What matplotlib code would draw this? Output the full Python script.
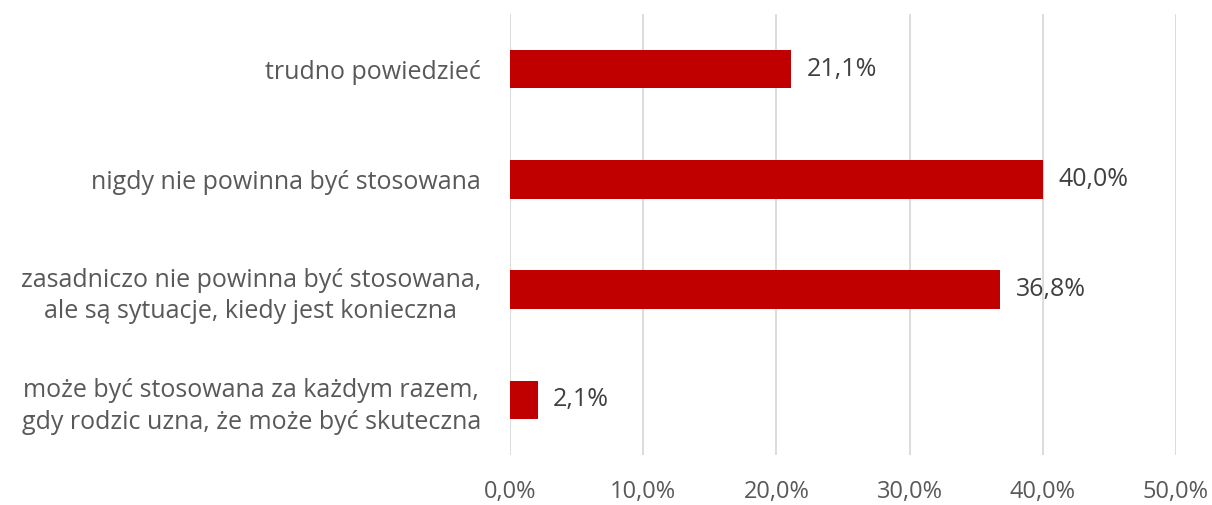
import numpy as np
import matplotlib.pyplot as plt

categories = [
    "może być stosowana za każdym razem,\ngdy rodzic uzna, że może być skuteczna",
    "zasadniczo nie powinna być stosowana,\nale są sytuacje, kiedy jest konieczna",
    "nigdy nie powinna być stosowana",
    "trudno powiedzieć",
]
values = [2.1, 36.8, 40.0, 21.1]
xticks = [0, 10, 20, 30, 40, 50]

plt.rcParams['font.family'] = ['Open Sans', 'DejaVu Sans']

fig = plt.figure(figsize=(12.12, 5.05), dpi=100)
ax = fig.add_axes([510 / 1212, 1 - 455 / 505, 666 / 1212, 441 / 505])

y = np.arange(len(categories))
ax.barh(y, values, height=0.35, color='#C00000', zorder=3)
for yi, v in zip(y, values):
    ax.annotate(f"{v:.1f}%".replace('.', ','), (v, yi), xytext=(11, 0),
                textcoords='offset points', va='center', ha='left',
                fontsize=18, color='#404040')

ax.set_xlim(0, 50)
ax.set_ylim(-0.5, len(categories) - 0.5)
ax.set_xticks(xticks)
ax.set_xticklabels([f"{t:.1f}%".replace('.', ',') for t in xticks], fontsize=17, color='#595959')
ax.set_yticks(y)
ax.set_yticklabels(categories, fontsize=18, color='#595959', ha='right',
                   multialignment='center', linespacing=1.35)
ax.tick_params(axis='both', length=0)
ax.tick_params(axis='x', pad=18)
ax.tick_params(axis='y', pad=21)
ax.grid(axis='x', color='#D9D9D9', linewidth=1.3, zorder=0)
for s in ax.spines.values():
    s.set_visible(False)

fig.savefig('out.png', dpi=100)
